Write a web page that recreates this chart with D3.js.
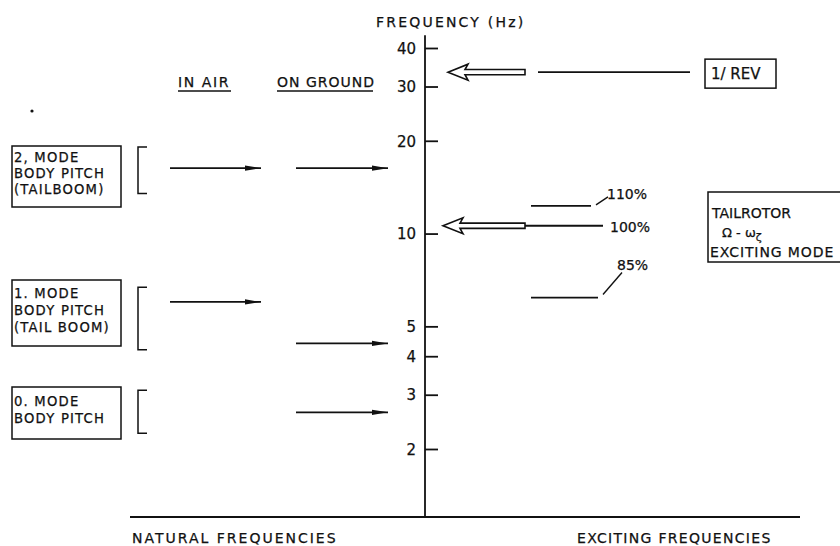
<!DOCTYPE html>
<html>
<head>
<meta charset="utf-8">
<script src="https://cdn.jsdelivr.net/npm/d3@7"></script>
<style>
  html, body { margin: 0; padding: 0; background: #fff; }
  svg { display: block; }
  text { font-family: "DejaVu Sans", sans-serif; fill: #111; stroke: #111; stroke-width: 0.25px; }
</style>
</head>
<body>
<svg id="chart" width="840" height="546"></svg>
<script>
// Frequency axis ticks (Hz)
const tickValues = [2, 3, 4, 5, 10, 20, 30, 40];

// Natural frequencies of the body pitch modes (Hz)
const modeLabels = [
  ["2, MODE", "BODY PITCH", "(TAILBOOM)"],
  ["1. MODE", "BODY PITCH", "(TAIL BOOM)"],
  ["0. MODE", "BODY  PITCH"]
];
const inAirHz = [16.3, 6.0, null];
const onGroundHz = [16.3, 4.4, 2.63];
const bracketHz = [[19.1, 13.5], [6.7, 4.2], [3.1, 2.25]];

// Exciting frequencies
const revHz = 33.4;
const tailRotorLabels = ["110%", "100%", "85%"];
const tailRotorHz = [12.3, 10.6, 6.2];

const svg = d3.select("#chart");
const axisX = 425, baseY = 517;
const ink = "#111";

const y = d3.scaleLog().domain([2, 40]).range([449, 48]);

// arrowhead for natural-frequency arrows
svg.append("defs").append("marker")
  .attr("id", "head")
  .attr("markerUnits", "userSpaceOnUse")
  .attr("markerWidth", 18).attr("markerHeight", 8)
  .attr("refX", 16).attr("refY", 4)
  .attr("orient", "auto")
  .append("path")
  .attr("d", "M0,1.4 L16,4 L0,6.6 Z")
  .attr("fill", ink);

// vertical frequency axis
svg.append("line")
  .attr("x1", axisX).attr("x2", axisX)
  .attr("y1", y(44)).attr("y2", baseY)
  .attr("stroke", ink).attr("stroke-width", 1.8);

const axis = d3.axisRight(y)
  .tickValues(tickValues)
  .tickFormat(d3.format("d"))
  .tickSize(13)
  .tickPadding(0);
const ag = svg.append("g").attr("transform", `translate(${axisX},0)`).call(axis);
ag.select(".domain").remove();
ag.selectAll(".tick line").attr("stroke", ink).attr("stroke-width", 1.8);
ag.selectAll(".tick text")
  .attr("x", -9).attr("text-anchor", "end").attr("dy", "0.35em")
  .attr("font-size", 15).attr("font-family", "DejaVu Sans, sans-serif")
  .style("fill", ink).style("stroke", ink).style("stroke-width", "0.25px");

svg.append("text").attr("x", 376).attr("y", 27)
  .attr("font-size", 14).attr("letter-spacing", 2.2)
  .text("FREQUENCY (Hz)");

// baseline
svg.append("line")
  .attr("x1", 130).attr("x2", 800)
  .attr("y1", baseY).attr("y2", baseY)
  .attr("stroke", ink).attr("stroke-width", 1.8);

svg.append("text").attr("x", 132).attr("y", 543)
  .attr("font-size", 14).attr("letter-spacing", 2.0)
  .text("NATURAL   FREQUENCIES");
svg.append("text").attr("x", 577).attr("y", 543)
  .attr("font-size", 14).attr("letter-spacing", 1.3)
  .text("EXCITING   FREQUENCIES");

// column headings
[["IN  AIR", 178, 53, 1.6], ["ON  GROUND", 277, 96, 1.0]].forEach(([t, x, w, ls]) => {
  svg.append("text").attr("x", x).attr("y", 87)
    .attr("font-size", 14).attr("letter-spacing", ls).text(t);
  svg.append("line").attr("x1", x).attr("x2", x + w)
    .attr("y1", 91).attr("y2", 91)
    .attr("stroke", ink).attr("stroke-width", 1.3);
});
svg.append("circle").attr("cx", 32).attr("cy", 111).attr("r", 1.6).attr("fill", ink);

// mode label boxes
const boxTop = [146, 280, 387];
const boxH = [61, 66, 52];
const firstLine = [16, 18, 19];
const lineGap = [15.8, 17, 16.5];
modeLabels.forEach((lines, i) => {
  svg.append("rect")
    .attr("x", 12).attr("y", boxTop[i])
    .attr("width", 109).attr("height", boxH[i])
    .attr("fill", "none").attr("stroke", ink).attr("stroke-width", 1.5);
  lines.forEach((t, j) => {
    svg.append("text").attr("x", 14).attr("y", boxTop[i] + firstLine[i] + j * lineGap[i])
      .attr("font-size", 13.2).attr("letter-spacing", 1.2).text(t);
  });
});

// brackets marking each mode's frequency band
bracketHz.forEach(([hi, lo]) => {
  const y1 = y(hi), y2 = y(lo);
  svg.append("path")
    .attr("d", `M147,${y1} L138,${y1} L138,${y2} L147,${y2}`)
    .attr("fill", "none").attr("stroke", ink).attr("stroke-width", 1.5);
});

// natural-frequency arrows: in air and on ground
inAirHz.forEach(f => {
  if (f == null) return;
  svg.append("line")
    .attr("x1", 170).attr("x2", 261)
    .attr("y1", y(f)).attr("y2", y(f))
    .attr("stroke", ink).attr("stroke-width", 1.8)
    .attr("marker-end", "url(#head)");
});
onGroundHz.forEach(f => {
  svg.append("line")
    .attr("x1", 296).attr("x2", 388)
    .attr("y1", y(f)).attr("y2", y(f))
    .attr("stroke", ink).attr("stroke-width", 1.8)
    .attr("marker-end", "url(#head)");
});

// hollow arrow pointing at the axis
function hollowArrow(tipX, endX, yy) {
  const p = `M${tipX},${yy} L${tipX + 20},${yy - 8} L${tipX + 17},${yy - 2.6}` +
            ` L${endX},${yy - 2.6} L${endX},${yy + 2.6} L${tipX + 17},${yy + 2.6}` +
            ` L${tipX + 20},${yy + 8} Z`;
  svg.append("path").attr("d", p)
    .attr("fill", "#fff").attr("stroke", ink).attr("stroke-width", 1.6);
}

// 1/REV
const yRev = y(revHz);
hollowArrow(448, 525, yRev);
svg.append("line").attr("x1", 538).attr("x2", 690)
  .attr("y1", yRev).attr("y2", yRev)
  .attr("stroke", ink).attr("stroke-width", 1.8);
svg.append("rect").attr("x", 705).attr("y", yRev - 13)
  .attr("width", 71).attr("height", 29)
  .attr("fill", "none").attr("stroke", ink).attr("stroke-width", 1.5);
svg.append("text").attr("x", 711).attr("y", yRev + 7)
  .attr("font-size", 15).text("1/ REV");

// tail rotor exciting frequencies
const trLine = [[531, 591], [525, 603], [531, 598]];
tailRotorHz.forEach((f, i) => {
  const yy = y(f);
  svg.append("line").attr("x1", trLine[i][0]).attr("x2", trLine[i][1])
    .attr("y1", yy).attr("y2", yy)
    .attr("stroke", ink).attr("stroke-width", 1.8);
});
hollowArrow(443, 525, y(tailRotorHz[1]));

// percentage labels with leaders
const y110 = y(tailRotorHz[0]), y85 = y(tailRotorHz[2]);
svg.append("line").attr("x1", 596).attr("y1", y110 - 1).attr("x2", 608).attr("y2", y110 - 9)
  .attr("stroke", ink).attr("stroke-width", 1.4);
svg.append("text").attr("x", 607).attr("y", y110 - 7).attr("font-size", 14).text(tailRotorLabels[0]);
svg.append("text").attr("x", 610).attr("y", y(tailRotorHz[1]) + 6).attr("font-size", 14).text(tailRotorLabels[1]);
svg.append("line").attr("x1", 603).attr("y1", y85 - 3).attr("x2", 622).attr("y2", y85 - 25)
  .attr("stroke", ink).attr("stroke-width", 1.4);
svg.append("text").attr("x", 617).attr("y", y85 - 28).attr("font-size", 14).text(tailRotorLabels[2]);

// tail rotor note box
svg.append("rect").attr("x", 708).attr("y", 192)
  .attr("width", 150).attr("height", 70)
  .attr("fill", "none").attr("stroke", ink).attr("stroke-width", 1.5);
svg.append("text").attr("x", 712).attr("y", 218).attr("font-size", 14).text("TAILROTOR");
const om = svg.append("text").attr("x", 722).attr("y", 237).attr("font-size", 13);
om.append("tspan").text("Ω - ω");
om.append("tspan").attr("dy", 4).attr("font-size", 11).text("ζ");
svg.append("text").attr("x", 710).attr("y", 257).attr("font-size", 14)
  .attr("letter-spacing", 0.9).text("EXCITING  MODE");
</script>
</body>
</html>
